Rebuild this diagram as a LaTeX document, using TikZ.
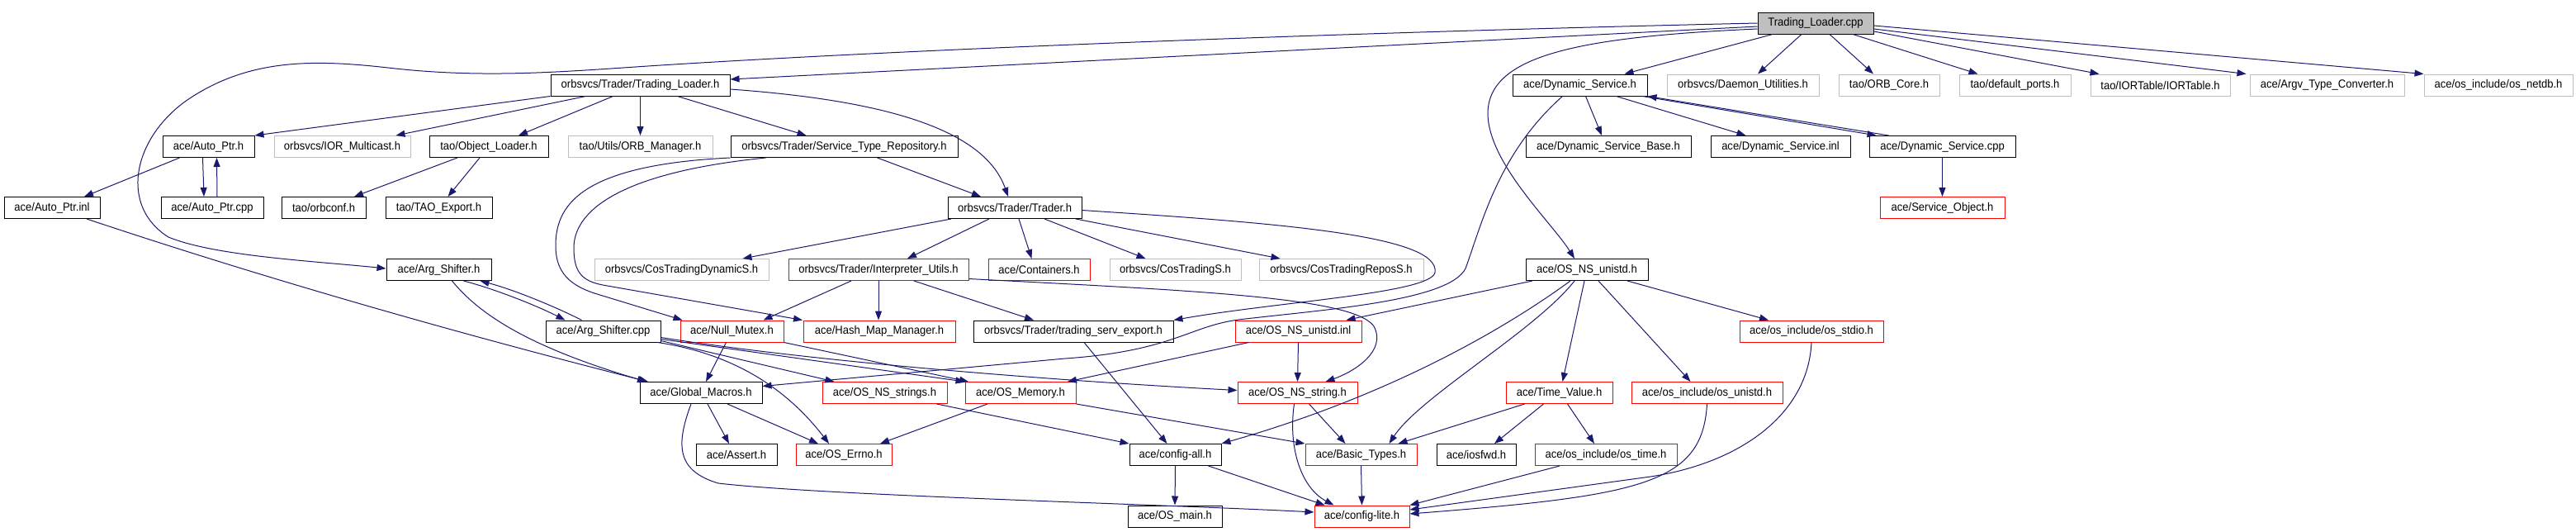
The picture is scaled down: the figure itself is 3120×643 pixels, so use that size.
\documentclass[tikz,border=0pt]{standalone}
\usepackage{fontspec}
\setmainfont{Liberation Sans}[FakeStretch=0.93]
\usetikzlibrary{arrows.meta}
\definecolor{edgeblue}{HTML}{191970}
\definecolor{boxgray}{HTML}{BFBFBF}

\begin{document}
\begin{tikzpicture}[x=1pt,y=-1pt,
  incbox/.style={draw,rectangle,line width=1pt,minimum height=26pt,inner sep=0pt,font=\fontsize{14}{16}\selectfont},
  doc/.style={incbox,draw=black},
  undoc/.style={incbox,draw=boxgray},
  trunc/.style={incbox,draw=red},
  dep/.style={draw=edgeblue,line width=1pt,-{Triangle[length=11pt,width=8pt]}}]
\useasboundingbox (0,0) rectangle (3120,643);

\node[incbox,draw=black,fill=boxgray,minimum width=140pt] (tlcpp) at (2199,28) {Trading\_Loader.cpp};

\node[doc,minimum width=217pt] (tlh) at (775.5,103) {orbsvcs/Trader/Trading\_Loader.h};
\node[doc,minimum width=163pt] (dsh) at (1913.5,103) {ace/Dynamic\_Service.h};
\node[undoc,minimum width=184pt] (daemon) at (2111,103) {orbsvcs/Daemon\_Utilities.h};
\node[undoc,minimum width=122pt] (orbcore) at (2288,103) {tao/ORB\_Core.h};
\node[undoc,minimum width=135pt] (ports) at (2440.5,103) {tao/default\_ports.h};
\node[undoc,minimum width=169pt] (iortable) at (2616.5,103) {tao/IORTable/IORTable.h};
\node[undoc,minimum width=187pt] (argv) at (2818.5,103) {ace/Argv\_Type\_Converter.h};
\node[undoc,minimum width=180pt] (netdb) at (3026,103) {ace/os\_include/os\_netdb.h};

\node[doc,minimum width=111pt] (autoh) at (252.5,177.5) {ace/Auto\_Ptr.h};
\node[undoc,minimum width=165pt] (iormc) at (414.5,177.5) {orbsvcs/IOR\_Multicast.h};
\node[doc,minimum width=144pt] (objl) at (592,177.5) {tao/Object\_Loader.h};
\node[undoc,minimum width=175pt] (orbmgr) at (775.5,177.5) {tao/Utils/ORB\_Manager.h};
\node[doc,minimum width=275pt] (strepo) at (1022.5,177.5) {orbsvcs/Trader/Service\_Type\_Repository.h};
\node[doc,minimum width=200pt] (dsbase) at (1948,177.5) {ace/Dynamic\_Service\_Base.h};
\node[doc,minimum width=169pt] (dsinl) at (2156.5,177.5) {ace/Dynamic\_Service.inl};
\node[doc,minimum width=177pt] (dscpp) at (2352.5,177.5) {ace/Dynamic\_Service.cpp};

\node[doc,minimum width=116pt] (autoinl) at (63,251.5) {ace/Auto\_Ptr.inl};
\node[doc,minimum width=124pt] (autocpp) at (257,251.5) {ace/Auto\_Ptr.cpp};
\node[doc,minimum width=102pt] (orbconf) at (392,251.5) {tao/orbconf.h};
\node[doc,minimum width=129pt] (taoexp) at (531.5,251.5) {tao/TAO\_Export.h};
\node[doc,minimum width=162pt] (traderh) at (1229,251.5) {orbsvcs/Trader/Trader.h};
\node[trunc,minimum width=151pt] (svcobj) at (2352.5,251.5) {ace/Service\_Object.h};

\node[doc,minimum width=127pt] (argh) at (531.5,326.5) {ace/Arg\_Shifter.h};
\node[undoc,minimum width=211pt] (cosdyn) at (825.5,326.5) {orbsvcs/CosTradingDynamicS.h};
\node[trunc,minimum width=218pt] (interp) at (1064,326.5) {orbsvcs/Trader/Interpreter\_Utils.h};
\node[trunc,minimum width=123pt] (cont) at (1258.5,326.5) {ace/Containers.h};
\node[undoc,minimum width=159pt] (costr) at (1423.5,326.5) {orbsvcs/CosTradingS.h};
\node[undoc,minimum width=199pt] (cosrep) at (1624.5,326.5) {orbsvcs/CosTradingReposS.h};
\node[doc,minimum width=148pt] (nsunih) at (1922,326.5) {ace/OS\_NS\_unistd.h};

\node[doc,minimum width=139pt] (argcpp) at (730.5,401) {ace/Arg\_Shifter.cpp};
\node[trunc,minimum width=125pt] (nullmx) at (886.5,401) {ace/Null\_Mutex.h};
\node[trunc,minimum width=184pt] (hashmm) at (1065,401) {ace/Hash\_Map\_Manager.h};
\node[doc,minimum width=242pt] (tsexp) at (1300,401) {orbsvcs/Trader/trading\_serv\_export.h};
\node[trunc,minimum width=153pt] (nsuniinl) at (1572.5,401) {ace/OS\_NS\_unistd.inl};
\node[trunc,minimum width=174pt] (stdio) at (2194,401) {ace/os\_include/os\_stdio.h};

\node[doc,minimum width=148pt] (globm) at (849,475.5) {ace/Global\_Macros.h};
\node[trunc,minimum width=151pt] (nsstrs) at (1071.5,475.5) {ace/OS\_NS\_strings.h};
\node[trunc,minimum width=134pt] (osmem) at (1236,475.5) {ace/OS\_Memory.h};
\node[trunc,minimum width=145pt] (nsstr) at (1571.5,475.5) {ace/OS\_NS\_string.h};
\node[trunc,minimum width=129pt] (timev) at (1888.5,475.5) {ace/Time\_Value.h};
\node[trunc,minimum width=183pt] (unistd) at (2067.5,475.5) {ace/os\_include/os\_unistd.h};

\node[doc,minimum width=98pt] (assert) at (892,550.5) {ace/Assert.h};
\node[trunc,minimum width=116pt] (errno) at (1022,550.5) {ace/OS\_Errno.h};
\node[doc,minimum width=111pt] (cfgall) at (1423.5,550.5) {ace/config-all.h};
\node[trunc,minimum width=135pt] (btypes) at (1648.5,550.5) {ace/Basic\_Types.h};
\node[doc,minimum width=96pt] (iosfwd) at (1788,550.5) {ace/iosfwd.h};
\node[trunc,minimum width=172pt] (ostime) at (1945,550.5) {ace/os\_include/os\_time.h};

\node[doc,minimum width=114pt] (osmain) at (1423,625) {ace/OS\_main.h};
\node[trunc,minimum width=115pt] (cfglite) at (1649.5,625) {ace/config-lite.h};

\draw[dep] ([yshift=-4pt]tlcpp.west) -- ([yshift=7pt]tlh.east);
\draw[dep] (tlcpp.west) .. controls (1600,40) and (1100,60) .. (800,79) .. controls (690,86) and (590,96) .. (470,82) .. controls (380,72) and (300,70) .. (224,123) .. controls (160,170) and (145,250) .. (204,287) .. controls (260,310) and (380,316) .. ([yshift=1.5pt]argh.west);
\draw[dep] ([xshift=-52pt]tlcpp.south) -- ([xshift=54pt]dsh.north);
\draw[dep] ([xshift=-17pt]tlcpp.south) -- ([xshift=18pt]daemon.north);
\draw[dep] ([xshift=17pt]tlcpp.south) -- ([xshift=-19pt]orbcore.north);
\draw[dep] ([xshift=45pt]tlcpp.south) -- ([xshift=-45pt]ports.north);
\draw[dep] ([yshift=-10pt]tlcpp.east) -- ([xshift=-74pt]iortable.north);
\draw[dep] ([yshift=-7pt]tlcpp.east) -- ([xshift=-98pt]argv.north);
\draw[dep] ([yshift=-3pt]tlcpp.east) -- (netdb.north west);
\draw[dep] ([yshift=-7pt]tlcpp.west) .. controls (1900,45) and (1800,70) .. (1802,140) .. controls (1805,200) and (1880,270) .. ([xshift=-15pt]nsunih.north);

\draw[dep] (tlh.south west) -- (autoh.north east);
\draw[dep] ([xshift=-66pt]tlh.south) -- ([xshift=65pt]iormc.north);
\draw[dep] ([xshift=-33pt]tlh.south) -- ([xshift=36pt]objl.north);
\draw[dep] (tlh.south) -- (orbmgr.north);
\draw[dep] ([xshift=45pt]tlh.south) -- ([xshift=-46pt]strepo.north);
\draw[dep] ([yshift=-5pt]tlh.east) .. controls (1050,120) and (1190,150) .. ([xshift=-8pt]traderh.north);

\draw[dep] ([xshift=-35pt]autoh.south) -- ([xshift=39pt]autoinl.north);
\draw[dep] ([xshift=-7pt]autoh.south) -- ([xshift=-10pt]autocpp.north);
\draw[dep] ([xshift=6pt]autocpp.north) -- ([xshift=10pt]autoh.south);
\draw[dep] ([xshift=42pt]autoinl.south) .. controls (330,340) and (560,405) .. ([xshift=-64pt]globm.north);

\draw[dep] ([xshift=-38pt]objl.south) -- ([xshift=37pt]orbconf.north);
\draw[dep] ([xshift=-11pt]objl.south) -- ([xshift=11pt]taoexp.north);

\draw[dep] ([xshift=40pt]strepo.south) -- ([xshift=-41pt]traderh.north);
\draw[dep] (strepo.south west) .. controls (700,200) and (672,250) .. (673,300) .. controls (674,330) and (690,345) .. (720,355) -- ([xshift=-60pt]nullmx.north);
\draw[dep] ([xshift=-95pt]strepo.south) .. controls (740,210) and (695,260) .. (695,300) .. controls (695,330) and (705,340) .. (730,345) -- ([xshift=-93pt]hashmm.north);

\draw[dep] ([xshift=-77pt]traderh.south) -- ([xshift=74pt]cosdyn.north);
\draw[dep] ([xshift=-31pt]traderh.south) -- ([xshift=35pt]interp.north);
\draw[dep] ([xshift=5pt]traderh.south) -- ([xshift=-9pt]cont.north);
\draw[dep] ([xshift=36pt]traderh.south) -- ([xshift=-36pt]costr.north);
\draw[dep] ([xshift=74pt]traderh.south) -- ([xshift=-74pt]cosrep.north);
\draw[dep] ([yshift=-3pt]traderh.east) .. controls (1550,270) and (1745,285) .. (1738,330) .. controls (1732,355) and (1550,365) .. (tsexp.north east);

\draw[dep] ([xshift=-33pt]interp.south) -- ([xshift=38pt]nullmx.north);
\draw[dep] (interp.south) -- ([xshift=-1pt]hashmm.north);
\draw[dep] ([xshift=43pt]interp.south) -- ([xshift=-48pt]tsexp.north);
\draw[dep] ([yshift=-11pt]interp.east) .. controls (1450,352) and (1640,360) .. (1664,395) .. controls (1680,425) and (1640,450) .. ([xshift=34pt]nsstr.north);

\draw[dep] ([xshift=30pt]argh.south) .. controls (600,350) and (650,370) .. ([xshift=-46pt]argcpp.north);
\draw[dep] ([xshift=-26pt]argcpp.north) .. controls (670,370) and (620,350) .. ([xshift=50pt]argh.south);
\draw[dep] ([xshift=16pt]argh.south) .. controls (580,380) and (640,420) .. ([xshift=-66pt]globm.north);

\draw[dep] ([yshift=2pt]argcpp.south east) -- ([xshift=-61pt]nsstrs.north);
\draw[dep] ([yshift=4pt]argcpp.south east) -- (osmem.north west);
\draw[dep] ([yshift=6pt]argcpp.south east) .. controls (1000,440) and (1300,462) .. ([yshift=3pt]nsstr.west);
\draw[dep] ([xshift=-4pt]argcpp.south east) .. controls (900,430) and (960,480) .. ([xshift=-18pt]errno.north);

\draw[dep] ([xshift=-7pt]nullmx.south) -- ([xshift=6pt]globm.north);
\draw[dep] (nullmx.south east) -- ([xshift=-63pt]osmem.north);

\draw[dep] ([xshift=-60pt]nsuniinl.south) -- ([xshift=57pt]osmem.north);
\draw[dep] (nsuniinl.south) -- (nsstr.north);

\draw[dep] ([xshift=7pt]dsh.south) -- ([xshift=-8pt]dsbase.north);
\draw[dep] ([xshift=44pt]dsh.south) -- ([xshift=-42pt]dsinl.north);
\draw[dep] ([xshift=76pt]dsh.south) -- ([xshift=-80pt]dscpp.north);
\draw[dep] ([xshift=-65pt]dscpp.north) -- (dsh.south east);
\draw[dep] ([xshift=-21pt]dsh.south) .. controls (1815,185) and (1795,270) .. (1775,325) .. controls (1755,365) and (1600,375) .. (1500,387) .. controls (1440,395) and (1420,425) .. (1290,434) -- ([yshift=8pt]globm.east);
\draw[dep] (dscpp.south) -- (svcobj.north);

\draw[dep] ([xshift=-66pt]nsunih.south) -- ([xshift=58pt]nsuniinl.north);
\draw[dep] ([xshift=-20pt]nsunih.south) .. controls (1820,400) and (1680,480) .. (cfgall.north east);
\draw[dep] ([xshift=-15pt]nsunih.south) .. controls (1860,400) and (1720,480) .. ([xshift=34pt]btypes.north);
\draw[dep] ([xshift=-3pt]nsunih.south) -- ([xshift=4pt]timev.north);
\draw[dep] ([xshift=14pt]nsunih.south) -- ([xshift=-20pt]unistd.north);
\draw[dep] ([xshift=49pt]nsunih.south) -- ([xshift=-52pt]stdio.north);

\draw[dep] ([xshift=14pt]nsstr.south) -- ([xshift=-19pt]btypes.north);
\draw[dep] ([xshift=-4pt]nsstr.south) .. controls (1560,540) and (1575,590) .. ([xshift=-34pt]cfglite.north);

\draw[dep] ([xshift=-42pt]timev.south) -- ([xshift=45pt]btypes.north);
\draw[dep] ([xshift=-19pt]timev.south) -- ([xshift=22pt]iosfwd.north);
\draw[dep] ([xshift=10pt]timev.south) -- ([xshift=-14pt]ostime.north);

\draw[dep] (btypes.south) -- (cfglite.north);
\draw[dep] ([xshift=-56pt]ostime.south) -- (cfglite.north east);
\draw[dep] (unistd.south) .. controls (2062,585) and (1990,600) .. ([yshift=3pt]cfglite.east);
\draw[dep] (stdio.south) .. controls (2190,500) and (2110,560) .. (1999,577) -- ([yshift=8pt]cfglite.east);

\draw[dep] ([xshift=8pt]globm.south) -- ([xshift=-9pt]assert.north);
\draw[dep] ([xshift=32pt]globm.south) -- ([xshift=-31pt]errno.north);
\draw[dep] ([xshift=-12pt]globm.south) .. controls (818,540) and (820,570) .. (870,585) .. controls (1000,600) and (1400,610) .. ([yshift=5pt]cfglite.west);

\draw[dep] ([xshift=-40pt]osmem.south) -- ([xshift=44pt]errno.north);
\draw[dep] (osmem.south east) -- (btypes.north west);

\draw[dep] ([xshift=63pt]nsstrs.south) -- (cfgall.north west);
\draw[dep] ([xshift=13pt]tsexp.south) -- ([xshift=-10pt]cfgall.north);
\draw[dep] (cfgall.south) -- (osmain.north);
\draw[dep] ([xshift=40pt]cfgall.south) -- ([xshift=-45pt]cfglite.north);
\end{tikzpicture}
\end{document}
